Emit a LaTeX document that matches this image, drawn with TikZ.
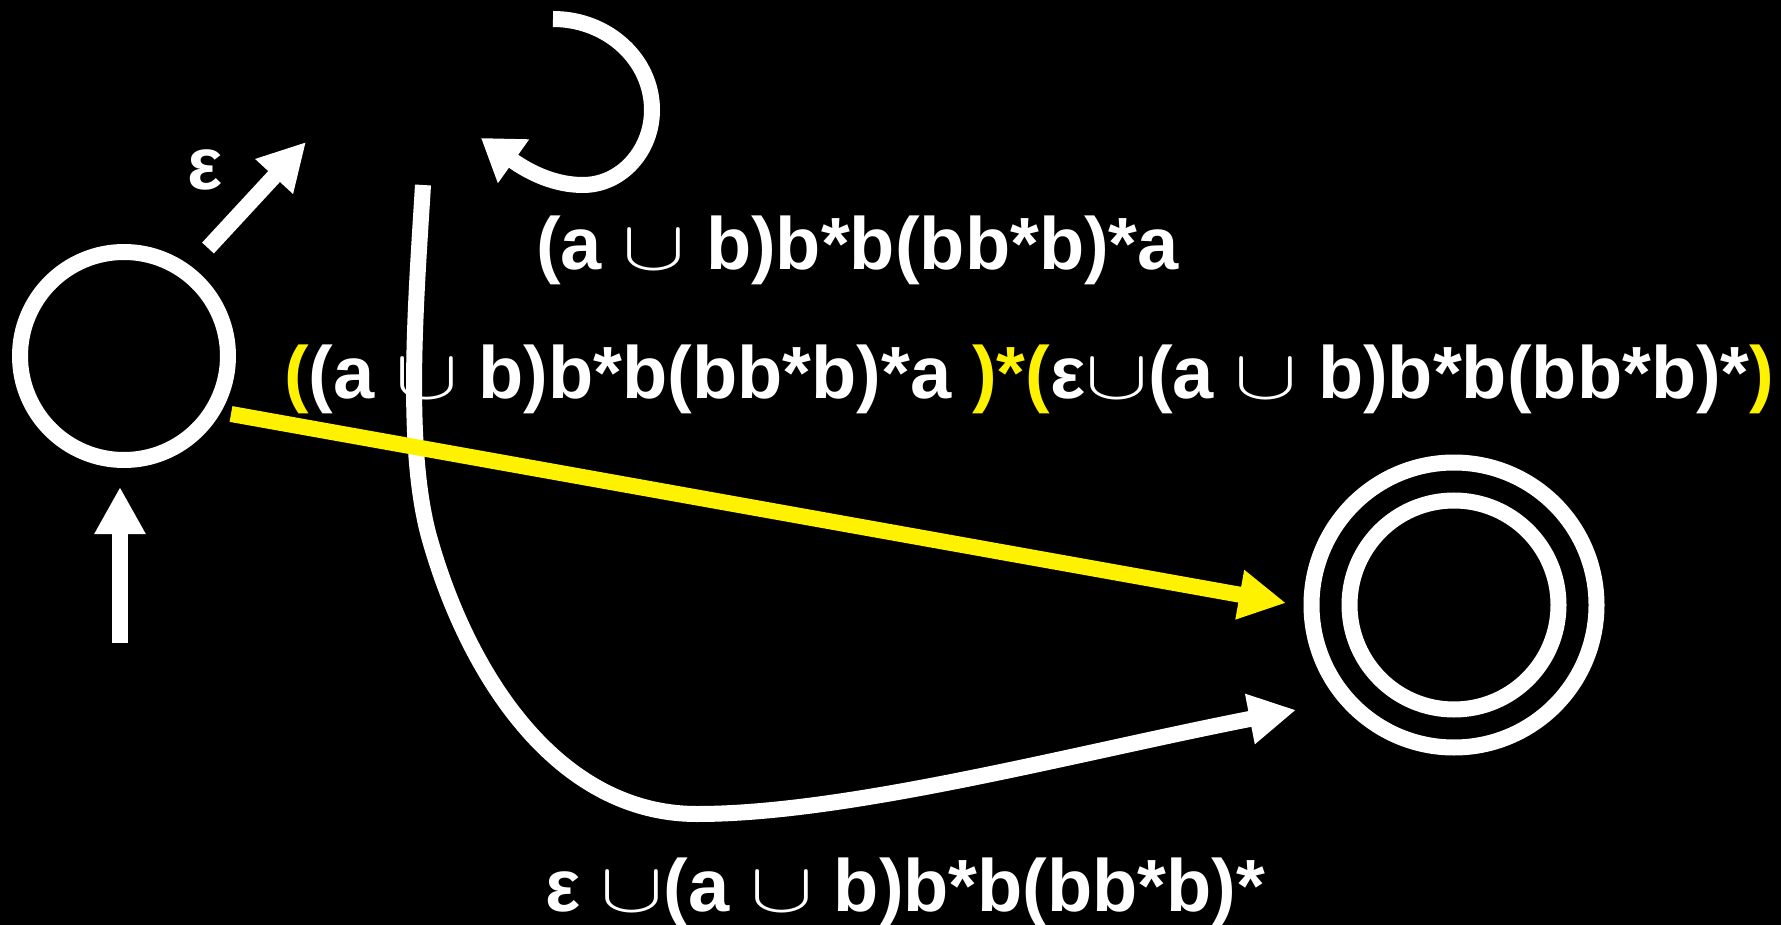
\documentclass[tikz,border=0pt]{standalone}
\usepackage{fix-cm}
\usepackage{fontspec}
\setmainfont{Liberation Sans}
\usetikzlibrary{arrows.meta}
\newcommand{\un}{{\fontsize{70}{74}\selectfont\scalebox{1.35}[1.0]{$\cup$}}}
\begin{document}
\begin{tikzpicture}[x=1pt,y=-1pt,
  lbl/.style={font=\fontsize{74}{80}\selectfont\bfseries, text=white, inner sep=0pt, anchor=base west},
  edge/.style={draw=white, line width=16pt},
  ylw/.style={draw=yellow, line width=16pt},
  tip/.style={-{Triangle[length=47pt,width=48pt]}},
  state/.style={circle, draw=white, line width=16pt, inner sep=0pt}
]
\fill[black] (0,0) rectangle (1781,925);
\useasboundingbox (0,0) rectangle (1781,925);

% states
\node[state, minimum size=208pt] (s) at (124,356) {};
\node[state, minimum size=285pt] (f) at (1454,605) {};
\node[state, minimum size=209pt] (fi) at (1454,605) {};

% start arrow
\coordinate (s0) at (120,643);
\draw[edge, tip, shorten >=19pt] (s0) -- (s0 |- s.south);

% epsilon arrow
\coordinate (e0) at (208,248);
\coordinate (e1) at (306,142);
\draw[edge, tip] (e0) -- (e1);
\node[lbl] (eps) at (187,190) {ε};

% loop
\coordinate (l0) at (553,19);
\coordinate (l1) at (481,138);
\draw[edge, -{Triangle[length=40pt,width=51pt]}] (l0) .. controls (608,19) and (652,60) .. (652,110)
  .. controls (652,151) and (621,185) .. (583,185)
  .. controls (555,185) and (530,173) .. (l1);

% long white curve
\coordinate (c0) at (423,185);
\coordinate (c1) at (1296,710);
\draw[edge, tip] (c0) .. controls (416,300) and (404,450) .. (430,540)
  .. controls (470,680) and (560,814) .. (697,814)
  .. controls (850,814) and (1080,752) .. (c1);

% labels
\node[lbl] (t1) at (536,270) {(a \un{} b)b*b(bb*b)*a};
\node[lbl] (t2) at (284,398) {\textcolor{yellow}{(}(a \un{} b)b*b(bb*b)*a \textcolor{yellow}{)*(}ε\un(a \un{} b)b*b(bb*b)*\textcolor{yellow}{)}};
\node[lbl] (t3) at (545,911) {ε \un(a \un{} b)b*b(bb*b)*};

% yellow arrow
\coordinate (y0) at (231,414);
\coordinate (y1) at (1286,603);
\draw[ylw, -{Triangle[length=47pt,width=47pt]}] (y0) -- (y1);
\end{tikzpicture}
\end{document}
